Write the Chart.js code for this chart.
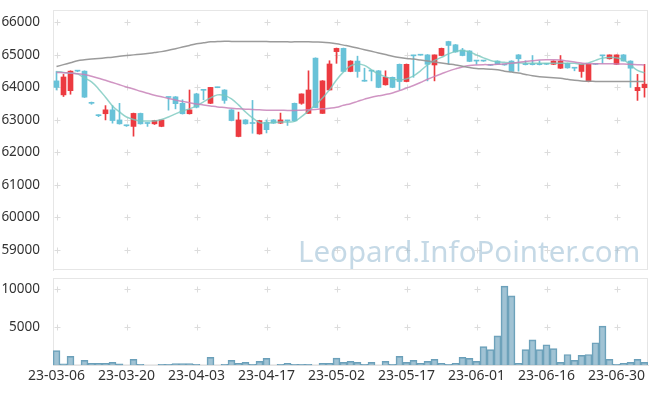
<!DOCTYPE html>
<html>
<head>
<meta charset="utf-8">
<script src="https://cdn.jsdelivr.net/npm/chart.js@4/dist/chart.umd.min.js"></script>
<style>
  body { margin: 0; background: #fff; }
  #wrap { position: relative; width: 657px; height: 396px; }
  canvas { position: absolute; left: 0; }
  #mark { position: absolute; left: 298px; top: 230px; font: 29.5px "Noto Sans", sans-serif;
          color: rgba(150, 185, 210, 0.55); pointer-events: none; white-space: nowrap; }
</style>
</head>
<body>
<div id="wrap">
  <canvas id="price" width="657" height="272" style="top:0"></canvas>
  <canvas id="vol" width="657" height="124" style="top:272px"></canvas>
  <div id="mark">Leopard.InfoPointer.com</div>
</div>
<script>
// trading days, 23-03-06 .. 23-07-06
const dates = [
  '23-03-06','23-03-07','23-03-08','23-03-09','23-03-10','23-03-13','23-03-14','23-03-15','23-03-16','23-03-17',
  '23-03-20','23-03-21','23-03-22','23-03-23','23-03-24','23-03-27','23-03-28','23-03-29','23-03-30','23-03-31',
  '23-04-03','23-04-04','23-04-05','23-04-06','23-04-07','23-04-10','23-04-11','23-04-12','23-04-13','23-04-14',
  '23-04-17','23-04-18','23-04-19','23-04-20','23-04-21','23-04-24','23-04-25','23-04-26','23-04-27','23-04-28',
  '23-05-02','23-05-03','23-05-04','23-05-08','23-05-09','23-05-10','23-05-11','23-05-12','23-05-15','23-05-16',
  '23-05-17','23-05-18','23-05-19','23-05-22','23-05-23','23-05-24','23-05-25','23-05-26','23-05-30','23-05-31',
  '23-06-01','23-06-02','23-06-05','23-06-07','23-06-08','23-06-09','23-06-12','23-06-13','23-06-14','23-06-15',
  '23-06-16','23-06-19','23-06-20','23-06-21','23-06-22','23-06-23','23-06-26','23-06-27','23-06-28','23-06-29',
  '23-06-30','23-07-03','23-07-04','23-07-05','23-07-06'
];

const openP = [
  64200,63770,63900,64500,64500,63520,63140,63190,63310,63000,
  62830,62800,63200,62900,62880,62800,63700,63710,63510,63190,
  63800,63920,63510,64000,63920,63310,62490,63000,62900,62570,
  62930,63000,62900,62980,63510,63510,63200,64900,63200,63920,
  65100,65200,64490,64810,64200,64510,64510,64080,64310,64710,
  64180,64980,65000,65000,64690,64980,65410,65310,65150,65120,
  64820,64820,64690,64810,64700,64810,65000,64710,64710,64710,
  64720,64710,64590,64740,64600,64490,64180,64720,64980,64880,
  64710,65000,64810,63900,63990
];
const highP = [
  64490,64400,64510,64520,64510,63550,63160,63440,63440,63510,
  62840,63210,63210,62910,62990,63000,63700,63720,63620,63920,
  63820,63930,64000,64010,63930,63320,63240,63010,63600,62990,
  63000,63010,63210,62990,63520,63800,64510,64910,64210,64820,
  65210,65210,64820,64960,64590,64520,64520,64510,64320,64720,
  64720,64990,65010,65010,65000,65210,65420,65320,65200,65130,
  64830,64830,64700,64820,64710,64820,65010,64820,64980,64820,
  64730,64820,64980,64750,64610,64720,64720,64730,64990,65000,
  65000,65010,64820,64400,64710
];
const lowP = [
  63920,63720,63790,64480,63690,63480,63100,63000,62900,62870,
  62800,62500,62870,62800,62860,62790,63300,63340,63180,63180,
  63370,63620,63500,63990,63510,62970,62480,62870,62590,62560,
  62600,62890,62890,62830,62960,63480,63200,63380,63200,63920,
  64740,64480,64480,64310,64190,64200,63990,64070,63990,63920,
  64170,64310,64990,64200,64200,64970,64710,65080,64970,64790,
  64710,64800,64670,64710,64680,64490,64500,64690,64690,64690,
  64700,64700,64580,64590,64510,64310,64170,64700,64740,64870,
  64700,64810,64000,63600,63700
];
const closeP = [
  64000,64320,64500,64500,63700,63510,63130,63310,62980,62880,
  62820,63200,62880,62890,62980,63000,63690,63500,63190,63310,
  63390,63910,64000,63990,63600,62980,63000,62880,62890,62980,
  62700,62900,63000,62970,62970,63800,63920,63380,64200,64720,
  65200,64490,64810,64490,64190,64500,64000,64310,64000,64180,
  64710,64970,64990,64710,65000,65200,65290,65090,64980,64800,
  64810,64810,64680,64710,64690,64490,64880,64700,64700,64700,
  64710,64810,64810,64600,64590,64710,64710,64710,64970,65000,
  65000,64810,64590,64000,64100
];

const ma5 = [
  64490,64460,64437,64415,64290,64170,63954,63700,63430,63246,
  63090,63015,62970,62970,62970,63015,63090,63185,63277,63340,
  63430,63554,63677,63770,63754,63646,63462,63246,63062,62923,
  62908,62923,62938,62938,62954,63100,63277,63462,63677,63923,
  64230,64477,64662,64723,64677,64538,64415,64323,64262,64230,
  64262,64354,64508,64692,64830,64923,65030,65108,65138,65092,
  65000,64908,64830,64790,64770,64755,64750,64745,64745,64745,
  64745,64745,64745,64745,64740,64710,64754,64830,64900,64923,
  64908,64846,64692,64523,64450
];
const ma20 = [
  64460,64450,64440,64420,64400,64340,64280,64220,64150,64080,
  64010,63950,63880,63820,63760,63710,63660,63610,63570,63530,
  63490,63460,63430,63400,63380,63360,63340,63330,63320,63310,
  63300,63300,63300,63290,63290,63300,63310,63320,63340,63360,
  63390,63450,63500,63570,63640,63700,63740,63780,63830,63900,
  63980,64060,64150,64250,64340,64420,64500,64570,64630,64670,
  64690,64700,64700,64710,64720,64740,64770,64800,64820,64840,
  64850,64850,64840,64810,64780,64750,64730,64730,64730,64730,
  64720,64720,64710,64700,64690
];
const ma60 = [
  64640,64700,64760,64820,64850,64870,64890,64910,64930,64960,
  64980,65000,65020,65040,65070,65100,65140,65190,65240,65290,
  65340,65370,65400,65410,65420,65415,65410,65410,65410,65410,
  65410,65405,65405,65400,65400,65400,65400,65395,65390,65370,
  65340,65300,65260,65210,65160,65110,65060,65010,64960,64920,
  64890,64870,64840,64810,64780,64750,64720,64690,64650,64610,
  64580,64570,64560,64540,64500,64470,64440,64400,64360,64330,
  64310,64300,64280,64250,64220,64200,64190,64185,64180,64180,
  64180,64180,64180,64180,64180
];

const volume = [
  1920,170,1150,0,640,256,256,256,380,180,
  0,770,110,0,0,100,100,200,200,200,
  100,0,1020,0,100,640,256,380,110,510,
  900,0,110,256,110,110,110,0,256,256,
  935,380,510,380,110,380,0,510,110,1150,
  380,640,256,510,770,256,110,256,1020,900,
  510,2430,2050,3850,10380,9100,256,2050,3330,2050,
  2690,2180,380,1410,640,1280,1410,2950,5130,770,
  110,256,380,770,380
];

const priceTicks = [59000, 60000, 61000, 62000, 63000, 64000, 65000, 66000];
const volTicks = [5000, 10000];

const UP = '#ec3a40';
const DOWN = '#68c2d8';
const candleColors = openP.map((o, i) => closeP[i] > o ? UP : DOWN);

// grid is drawn as small crosses at the tick intersections, plus a thin frame
const crossGrid = {
  id: 'crossGrid',
  beforeDatasetsDraw(chart) {
    const { ctx, chartArea, scales } = chart;
    const xs = [];
    dates.forEach((d, i) => { if (i % 10 === 0) xs.push(Math.round(scales.x.getPixelForValue(i)) + 0.5); });
    const ys = scales.y.ticks.map(t => Math.round(scales.y.getPixelForValue(t.value)) + 0.5);
    ctx.save();
    ctx.strokeStyle = '#e6e6e6';
    ctx.lineWidth = 1;
    ctx.strokeRect(chartArea.left + 0.5, chartArea.top + 0.5, chartArea.width - 1, chartArea.height - 1);
    ctx.strokeStyle = '#dcdcdc';
    ctx.beginPath();
    xs.forEach(x => ys.forEach(y => {
      ctx.moveTo(x - 3, y); ctx.lineTo(x + 3, y);
      ctx.moveTo(x, y - 3); ctx.lineTo(x, y + 3);
    }));
    ctx.stroke();
    ctx.restore();
  }
};

const yFont = { family: '"Noto Sans", sans-serif', size: 13.5 };
const xFont = { family: '"Noto Sans", sans-serif', size: 14 };

// no extra room for half labels at the ends of the value axes
const noEndPadding = s => { s.width = 53; s.paddingTop = 0; s.paddingBottom = 0; };

new Chart(document.getElementById('price'), {
  data: {
    labels: dates,
    datasets: [
      { type: 'line', data: ma60, borderColor: 'rgba(150,150,150,0.95)', borderWidth: 1.5, pointRadius: 0, tension: 0.4, order: 0 },
      { type: 'line', data: ma20, borderColor: 'rgba(200,130,185,0.85)', borderWidth: 1.5, pointRadius: 0, tension: 0.4, order: 0 },
      { type: 'line', data: ma5, borderColor: 'rgba(120,200,190,0.8)', borderWidth: 1.5, pointRadius: 0, tension: 0.4, order: 0 },
      { type: 'bar', data: dates.map((d, i) => [lowP[i], highP[i]]), backgroundColor: candleColors,
        barThickness: 1, grouped: false, order: 2 },
      { type: 'bar', data: dates.map((d, i) => [openP[i], closeP[i]]), backgroundColor: candleColors,
        barThickness: 5, minBarLength: 1, grouped: false, order: 1 }
    ]
  },
  options: {
    responsive: false,
    animation: false,
    devicePixelRatio: 1,
    layout: { padding: { top: 10, right: 9, bottom: 2, left: 0 } },
    plugins: { legend: { display: false }, tooltip: { enabled: false } },
    scales: {
      x: { display: false, offset: true },
      y: {
        min: 58385, max: 66380,
        afterBuildTicks: s => { s.ticks = priceTicks.map(v => ({ value: v })); },
        afterFit: noEndPadding,
        grid: { display: false },
        border: { display: true, color: '#e3e3e3' },
        ticks: { font: yFont, color: '#333', padding: 5, callback: v => String(v) }
      }
    }
  },
  plugins: [crossGrid]
});

new Chart(document.getElementById('vol'), {
  type: 'bar',
  data: {
    labels: dates,
    datasets: [{
      data: volume,
      backgroundColor: 'rgba(125,172,196,0.72)',
      borderColor: '#6a9fb9',
      borderWidth: 1,
      categoryPercentage: 1,
      barPercentage: 1
    }]
  },
  options: {
    responsive: false,
    animation: false,
    devicePixelRatio: 1,
    layout: { padding: { top: 6, right: 9, bottom: 10, left: 0 } },
    plugins: { legend: { display: false }, tooltip: { enabled: false } },
    scales: {
      x: {
        offset: true,
        grid: { display: false, drawTicks: false },
        border: { display: true, color: '#e3e3e3' },
        ticks: {
          font: xFont, color: '#333', padding: 2,
          autoSkip: false, maxRotation: 0,
          callback: (v, i) => i % 10 === 0 ? dates[i] : ''
        }
      },
      y: {
        min: 0, max: 11450,
        afterBuildTicks: s => { s.ticks = volTicks.map(v => ({ value: v })); },
        afterFit: noEndPadding,
        grid: { display: false },
        border: { display: true, color: '#e3e3e3' },
        ticks: { font: yFont, color: '#333', padding: 5, callback: v => String(v) }
      }
    }
  },
  plugins: [crossGrid]
});
</script>
</body>
</html>
